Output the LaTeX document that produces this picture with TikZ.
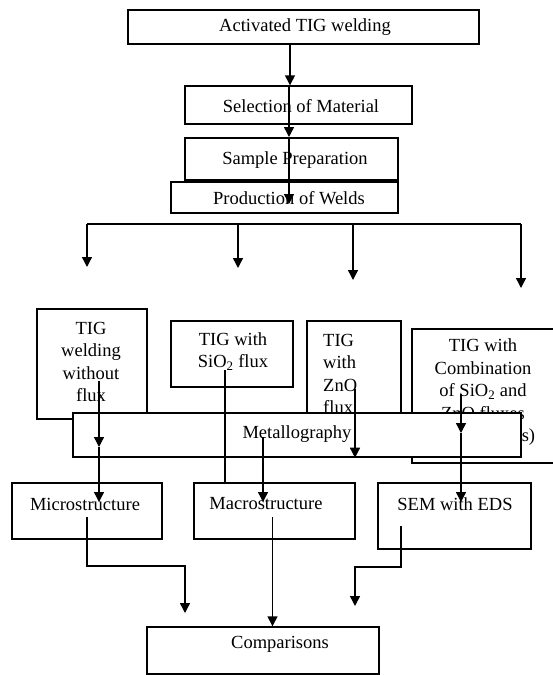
\documentclass[tikz,border=0pt]{standalone}
\usepackage{fontspec}
\setmainfont{Liberation Serif}
\usetikzlibrary{arrows.meta}
\tikzset{>={Triangle[width=10pt,length=10pt]}}

\begin{document}
\begin{tikzpicture}[x=1pt,y=-1pt,
		box/.style={draw, line width=1.4pt, rectangle, inner sep=0pt},
		lbl/.style={inner sep=0pt, align=center, font=\fontsize{18.5}{22.5}\selectfont},
		arr/.style={->, line width=1.4pt}]
		\useasboundingbox (0,0) rectangle (553,675);
		% upper chain
		\node[box, minimum width=351, minimum height=34] (act) at (303.5,27) {};
		\node[lbl] (act-t) at (305,27) {Activated TIG welding};
		\node[box, minimum width=227, minimum height=38] (sel) at (298.5,105) {};
		\node[lbl] (sel-t) at (301,106) {Selection of Material};
		\node[box, minimum width=213, minimum height=42] (samp) at (291.5,159) {};
		\node[lbl] (samp-t) at (295,160) {Sample Preparation};
		\node[box, minimum width=227, minimum height=31] (prod) at (284.5,197.5) {};
		\node[lbl] (prod-t) at (289,198) {Production of Welds};
		% welding variants
		\node[box, minimum width=110, minimum height=110] (nof) at (92,364) {};
		\node[lbl] (nof-t) at (91,362) {TIG\\welding\\without\\flux};
		\node[box, minimum width=122, minimum height=66] (sio) at (232,354) {};
		\node[lbl] (sio-t) at (233,351.5) {TIG with\\SiO\textsubscript{2} flux};
		\node[box, minimum width=94, minimum height=129] (zno) at (354,385.5) {};
		\node[lbl, align=left, anchor=west] (zno-t) at (323,374) {TIG\\with\\ZnO\\flux};
		\node[box, minimum width=144, minimum height=134] (comb) at (484,396) {};
		\node[lbl] (comb-t) at (483,392.5) {TIG with\\Combination\\of SiO\textsubscript{2} and\\ZnO fluxes\\(varied ratios)};
		% metallography covers the boxes above
		\node[box, fill=white, minimum width=448, minimum height=44] (met) at (297,435) {};
		\node[lbl] (met-t) at (297,434) {Metallography};
		% analyses
		\node[box, minimum width=150, minimum height=56] (micro) at (87,511) {};
		\node[lbl] (micro-t) at (85,504) {Microstructure};
		\node[box, minimum width=161, minimum height=56] (macro) at (274.5,511) {};
		\node[lbl] (macro-t) at (266,504) {Macrostructure};
		\node[box, minimum width=153, minimum height=66] (sem) at (454.5,516) {};
		\node[lbl] (sem-t) at (455,504) {SEM with EDS};
		\node[box, minimum width=232, minimum height=47] (comp) at (263,650.5) {};
		\node[lbl] (comp-t) at (280,644) {Comparisons};

		\draw[arr] (290,0 |- act.south) -- (290,0 |- sel.north);
		\draw[arr] (289,0 |- sel.north) -- (289,137);
		\draw[arr] (289,0 |- samp.north) -- (289,204);
		\draw[line width=1.4pt] (87,224) -- (521,224);
		\foreach \x/\y in {87/267,238/268,353/280,521/288}
			\draw[arr] (\x,224) -- (\x,\y);
		\draw[arr] (99,381) -- (99,447);
		\draw[arr] (99,447) -- (99,502);
		\draw[line width=1.4pt] (225,370) -- (225,0 |- macro.north);
		\draw[arr] (263,437) -- (263,502);
		\draw[arr] (355,389) -- (355,0 |- met.south);
		\draw[arr] (461,394) -- (461,433);
		\draw[arr] (461,433) -- (461,502);
		\draw[arr] (87,517) |- (185,566) -- (185,613);
		\draw[arr] (272.5,517) -- (272.5,0 |- comp.north);
		\draw[arr] (401,526) |- (355,567) -- (355,606);
	\end{tikzpicture}
\end{document}
